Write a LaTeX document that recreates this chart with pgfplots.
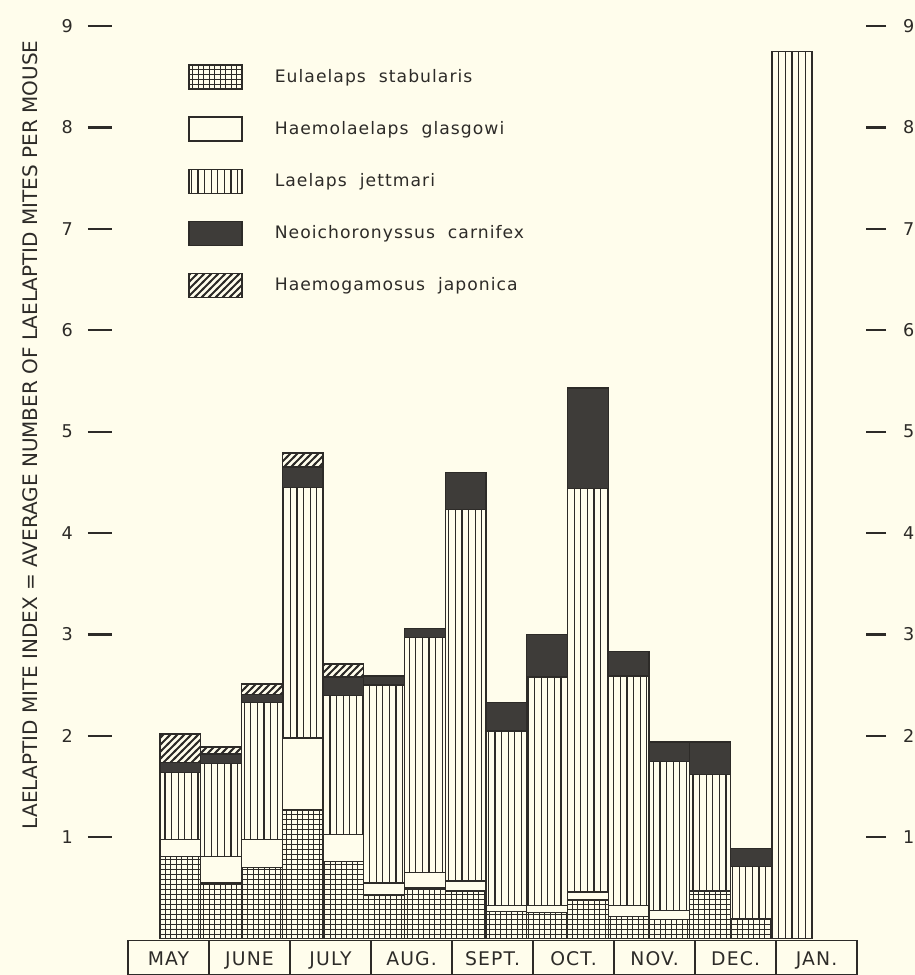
\documentclass[border=0pt]{standalone}
\usepackage{fontspec}
\setmainfont{DejaVu Sans}
\newfontfamily\lettering[LetterSpace=6]{DejaVu Sans}
\usepackage{pgfplots}
\usepackage{pgfplotstable}
\pgfplotsset{compat=1.18}
\usetikzlibrary{patterns}

\definecolor{paper}{RGB}{255,253,236}
\definecolor{ink}{RGB}{45,43,40}
\definecolor{darkfill}{RGB}{62,60,57}

% hand-made fills, close to the drafting patterns of the original
\pgfdeclarepatternformonly{mitegrid}{\pgfqpoint{-0.5pt}{-0.5pt}}{\pgfqpoint{3.25pt}{3pt}}{\pgfqpoint{2.75pt}{2.5pt}}{%
  \pgfsetlinewidth{0.5pt}%
  \pgfpathmoveto{\pgfqpoint{-0.5pt}{0pt}}\pgfpathlineto{\pgfqpoint{3.25pt}{0pt}}%
  \pgfpathmoveto{\pgfqpoint{0pt}{-0.5pt}}\pgfpathlineto{\pgfqpoint{0pt}{3pt}}%
  \pgfusepath{stroke}}
\pgfdeclarepatternformonly{mitevert}{\pgfqpoint{-1pt}{-0.5pt}}{\pgfqpoint{1pt}{3.5pt}}{\pgfqpoint{3.3pt}{3pt}}{%
  \pgfsetlinewidth{0.55pt}%
  \pgfpathmoveto{\pgfqpoint{0pt}{-0.5pt}}\pgfpathlineto{\pgfqpoint{0pt}{3.5pt}}%
  \pgfusepath{stroke}}
\pgfdeclarepatternformonly{mitehatch}{\pgfqpoint{-1pt}{-1pt}}{\pgfqpoint{4.5pt}{4.5pt}}{\pgfqpoint{3.5pt}{3.5pt}}{%
  \pgfsetlinewidth{0.9pt}%
  \pgfpathmoveto{\pgfqpoint{-0.5pt}{-0.5pt}}\pgfpathlineto{\pgfqpoint{4pt}{4pt}}%
  \pgfusepath{stroke}}

% bars 1..16, May to January; stacked bottom to top
\pgfplotstableread{
x  E    H    L    N    J
1  0.81 0.17 0.66 0.10 0.28
2  0.55 0.26 0.92 0.09 0.07
3  0.70 0.28 1.35 0.08 0.10
4  1.27 0.71 2.47 0.20 0.14
5  0.76 0.27 1.37 0.18 0.13
6  0.43 0.12 1.95 0.09 0
7  0.50 0.15 2.32 0.09 0
8  0.47 0.10 3.66 0.37 0
9  0.27 0.06 1.72 0.28 0
10 0.26 0.07 2.25 0.42 0
11 0.38 0.08 3.98 0.99 0
12 0.22 0.11 2.26 0.24 0
13 0.19 0.09 1.47 0.19 0
14 0.47 0    1.15 0.32 0
15 0.20 0    0.51 0.18 0
16 0    0    8.75 0    0
}\mites

\pgfplotsset{
  miteaxis/.style={
    at={(0,0)}, anchor=south west, scale only axis,
    width=377pt, height=456.35pt,
    xmin=-0.678, xmax=17.825, ymin=0, ymax=9,
    clip=false,
    axis line style={draw=none},
    ytick={1,...,9}, tick align=outside,
    ytick style={ink, line width=1.1pt},
    /pgf/number format/assume math mode=true,
    tick label style={font=\fontsize{8.8}{10}\selectfont, text=ink},
  },
  segment/.style={draw=ink, line width=0.7pt},
}

\begin{document}
\begin{tikzpicture}
\fill[paper] (-56pt,-18.15pt) rectangle (401.5pt,469.35pt);

\begin{axis}[miteaxis,
  ybar stacked, bar width=1,
  ytick pos=left, major tick length=12pt,
  yticklabel style={xshift=-4pt},
  xtick={0.709,2.697,4.685,6.673,8.661,10.649,12.637,14.625,16.613},
  xticklabels={MAY,JUNE,JULY,AUG.,SEPT.,OCT.,NOV.,DEC.,JAN.},
  xtick style={draw=none},
  xticklabel style={anchor=center, yshift=2pt, text height=7pt, text depth=0pt,
    font=\lettering\fontsize{9.4}{10}\selectfont},
  ylabel={LAELAPTID MITE INDEX = AVERAGE NUMBER OF LAELAPTID MITES PER MOUSE},
  every axis y label/.style={at={(axis description cs:-0.1088,0.552)}, rotate=90,
    anchor=center, font=\fontsize{10}{12}\selectfont, text=ink},
  legend style={at={(axis description cs:0.1008,0.9585)}, anchor=north west,
    draw=none, fill=none, row sep=13.4pt, inner sep=0pt,
    /tikz/every odd column/.append style={column sep=14pt},
    font=\lettering\fontsize{8.6}{10}\selectfont, text=ink},
  legend cell align=left,
  legend image code/.code={\draw[#1] (0pt,-6pt) rectangle (26.5pt,6pt);},
]
\addplot[segment, pattern=mitegrid, pattern color=ink] table[x=x, y=E] {\mites};
\addlegendentry{Eulaelaps\ \ stabularis}
\addplot[segment, fill=paper] table[x=x, y=H] {\mites};
\addlegendentry{Haemolaelaps\ \ glasgowi}
\addplot[segment, pattern=mitevert, pattern color=ink] table[x=x, y=L] {\mites};
\addlegendentry{Laelaps\ \ jettmari}
\addplot[segment, fill=darkfill] table[x=x, y=N] {\mites};
\addlegendentry{Neoichoronyssus\ \ carnifex}
\addplot[segment, pattern=mitehatch, pattern color=ink] table[x=x, y=J] {\mites};
\addlegendentry{Haemogamosus\ \ japonica}

% month strip under the bars
\draw[ink, line width=0.7pt] (axis cs:-0.285,-0.015) rectangle (axis cs:17.607,-0.355);
\foreach \m in {1.703,3.691,5.679,7.667,9.655,11.643,13.631,15.619}
  {\edef\temp{\noexpand\draw[ink, line width=0.7pt] (axis cs:\m,-0.015) -- (axis cs:\m,-0.355);}\temp}
\end{axis}

\begin{axis}[miteaxis,
  xtick=\empty,
  ytick pos=right, yticklabel pos=right, major tick length=10pt,
  yticklabel style={xshift=5pt},
]
\end{axis}

\pgfresetboundingbox
\path[use as bounding box] (-56pt,-18.15pt) rectangle (401.5pt,469.35pt);
\end{tikzpicture}
\end{document}
